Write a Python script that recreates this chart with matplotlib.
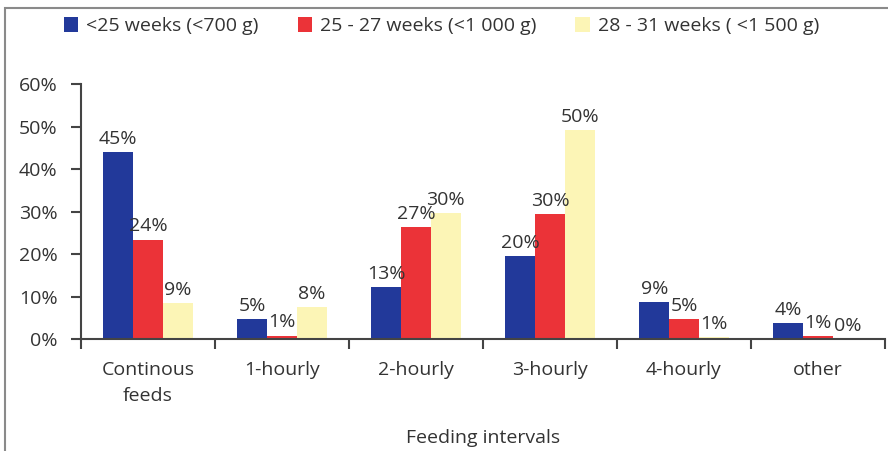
import numpy as np
import matplotlib
matplotlib.use("Agg")
import matplotlib.pyplot as plt
from matplotlib.patches import Rectangle

plt.rcParams['font.family'] = ['Open Sans', 'DejaVu Sans']

categories = ["Continous\nfeeds", "1-hourly", "2-hourly", "3-hourly", "4-hourly", "other"]
series_names = ["<25 weeks (<700 g)", "25 - 27 weeks (<1 000 g)", "28 - 31 weeks ( <1 500 g)"]
# bar heights (percent)
under25 = [44.0, 4.6, 12.3, 19.5, 8.7, 3.8]
w25_27 = [23.4, 0.8, 26.4, 29.4, 4.6, 0.6]
w28_31 = [8.5, 7.5, 29.6, 49.2, 0.4, 0.0]
# printed labels
under25_lbl = ["45%", "5%", "13%", "20%", "9%", "4%"]
w25_27_lbl = ["24%", "1%", "27%", "30%", "5%", "1%"]
w28_31_lbl = ["9%", "8%", "30%", "50%", "1%", "0%"]
yticks = [0, 10, 20, 30, 40, 50, 60]

colors = ["#22399a", "#eb3338", "#fcf5b6"]
txt = "#333333"
fs = 14

fig = plt.figure(figsize=(8.88, 4.51), dpi=100)
# outer frame of the original figure
fig.patches.append(Rectangle((0.006, -0.1), 1.2, 1.082, transform=fig.transFigure,
                             fill=False, edgecolor="#8a8a8a", linewidth=1.5))
ax = fig.add_axes([0.0912, 0.2483, 0.9054, 0.5654])

x = np.arange(len(categories))
w = 0.222
allvals = [under25, w25_27, w28_31]
alllbl = [under25_lbl, w25_27_lbl, w28_31_lbl]
for i in range(3):
    pos = x + (i - 1) * w
    bars = ax.bar(pos, allvals[i], width=w, color=colors[i], label=series_names[i])
    for p, v, l in zip(pos, allvals[i], alllbl[i]):
        ax.annotate(l, (p, v), xytext=(0, 3), textcoords="offset points",
                    ha="center", va="bottom", fontsize=fs, color=txt)

ax.set_xlim(-0.5, len(categories) - 0.5)
ax.set_ylim(0, 60)
ax.set_yticks(yticks)
ax.set_yticklabels([str(t) + "%" for t in yticks])
ax.set_xticks(np.arange(len(categories) + 1) - 0.5)
ax.set_xticklabels([])
ax.set_xticks(x, minor=True)
ax.set_xticklabels(categories, minor=True, linespacing=1.55)
ax.tick_params(axis="x", which="minor", length=0, pad=16, labelsize=fs, labelcolor=txt)
ax.tick_params(axis="x", which="major", length=7, width=1.5, color="#444444", direction="out")
ax.tick_params(axis="y", length=7, width=1.5, color="#444444", labelsize=fs, labelcolor=txt, pad=10)
for s in ["top", "right"]:
    ax.spines[s].set_visible(False)
for s in ["left", "bottom"]:
    ax.spines[s].set_linewidth(1.5)
    ax.spines[s].set_color("#444444")

ax.set_xlabel("Feeding intervals", fontsize=fs, color=txt, labelpad=17)

ax.legend(loc="upper left", bbox_to_anchor=(-0.043, 1.33), ncol=3, frameon=False,
          fontsize=fs, handlelength=0.75, handleheight=0.75, handletextpad=0.4,
          columnspacing=2.0, labelcolor=txt)

fig.savefig("out.png", dpi=100)
